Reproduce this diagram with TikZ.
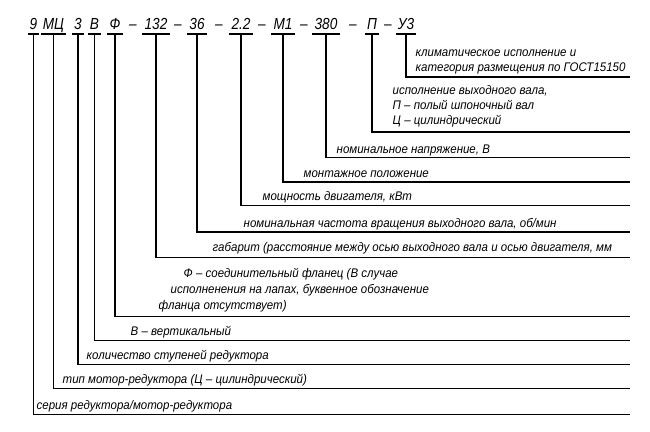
\documentclass[tikz,border=0pt]{standalone}
\usepackage{fontspec}
\setmainfont{Liberation Sans}
\newfontfamily\gostcode[FakeStretch=0.85]{Liberation Sans}
\newfontfamily\gostlab[FakeStretch=0.92]{Liberation Sans}
\begin{document}
\begin{tikzpicture}[x=1pt,y=-1pt,line width=1.4pt,
  code/.style={font=\gostcode\itshape\fontsize{16}{16}\selectfont,inner xsep=1.5pt,inner ysep=0pt,anchor=base},
  lab/.style={font=\gostlab\itshape\fontsize{12.5}{12.5}\selectfont,inner sep=0pt,anchor=base west},
  lead/.style={line width=1.4pt}]
\useasboundingbox (0,0) rectangle (650,431);
% code parts
\node[code] (k9)  at (33.5,29) {9};
\node[code] (kMC) at (53.5,29) {МЦ};
\node[code] (k3)  at (78,29) {3};
\node[code] (kB)  at (94.5,29) {В};
\node[code] (kF)  at (115,29) {Ф};
\node[code] (d1)  at (133,29) {–};
\node[code] (k132) at (156,29) {132};
\node[code] (d2)  at (178,29) {–};
\node[code] (k36) at (197,29) {36};
\node[code] (d3)  at (219,29) {–};
\node[code] (k22) at (241,29) {2.2};
\node[code] (d4)  at (262,29) {–};
\node[code] (kM1) at (283,29) {М1};
\node[code] (d5)  at (304,29) {–};
\node[code] (k380) at (326,29) {380};
\node[code] (d6)  at (353,29) {–};
\node[code] (kP)  at (372,29) {П};
\node[code] (d7)  at (388,29) {–};
\node[code] (kU3) at (406,29) {У3};
% line ends
\coordinate (eU3) at (630,77);
\coordinate (eP) at (630,132);
\coordinate (e380) at (630,157.5);
\coordinate (eM1) at (630,182);
\coordinate (e22) at (630,205.5);
\coordinate (e36) at (630,232);
\coordinate (e132) at (630,257.5);
\coordinate (eF) at (630,316.5);
\coordinate (eB) at (630,340.5);
\coordinate (e3) at (630,364.5);
\coordinate (eMC) at (630,388.5);
\coordinate (e9) at (630,414.5);
% underlines and leaders
\foreach \k/\e in {k9/e9,kMC/eMC,k3/e3,kB/eB,kF/eF,k132/e132,k36/e36,k22/e22,kM1/eM1,k380/e380,kP/eP,kU3/eU3}{
  \draw[lead] (\k.west |- 0,34) -- (\k.east |- 0,34);
  \draw[lead] (\k.center |- 0,34) |- (\e);
}
% labels
\node[lab] (tU3a) at (415,56) {климатическое исполнение и};
\node[lab] (tU3b) at (415,71.5) {категория размещения по ГОСТ15150};
\node[lab] (tPa) at (392,94) {исполнение выходного вала,};
\node[lab] (tPb) at (392,109) {П – полый шпоночный вал};
\node[lab] (tPc) at (392,124) {Ц – цилиндрический};
\node[lab] (t380) at (336,153) {номинальное напряжение, В};
\node[lab] (tM1) at (303,177) {монтажное положение};
\node[lab] (t22) at (262,200) {мощность двигателя, кВт};
\node[lab] (t36) at (243,227) {номинальная частота вращения выходного вала, об/мин};
\node[lab] (t132) at (212,251) {габарит (расстояние между осью выходного вала и осью двигателя, мм};
\node[lab] (tFa) at (183,277) {Ф – соединительный фланец (В случае};
\node[lab] (tFb) at (170,293) {исполненения на лапах, буквенное обозначение};
\node[lab] (tFc) at (158,309) {фланца отсутствует)};
\node[lab] (tB) at (130,335) {В – вертикальный};
\node[lab] (t3) at (86,359) {количество ступеней редуктора};
\node[lab] (tMC) at (62,383) {тип мотор-редуктора (Ц – цилиндрический)};
\node[lab] (t9) at (36,409) {серия редуктора/мотор-редуктора};
\end{tikzpicture}
\end{document}
